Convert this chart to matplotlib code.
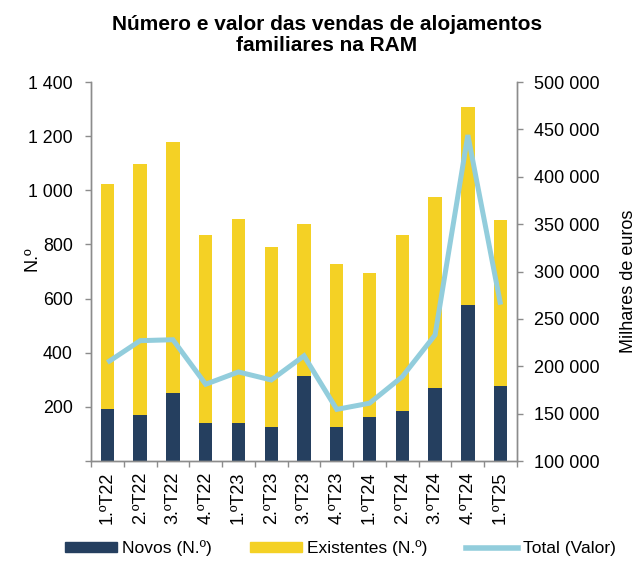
import matplotlib
matplotlib.use("Agg")
import matplotlib.pyplot as plt
from matplotlib.ticker import FuncFormatter
from matplotlib.patches import Patch
from matplotlib.lines import Line2D
import numpy as np

plt.rcParams['font.family'] = ['Liberation Sans', 'DejaVu Sans']

categories = ["1.ºT22", "2.ºT22", "3.ºT22", "4.ºT22", "1.ºT23", "2.ºT23", "3.ºT23",
              "4.ºT23", "1.ºT24", "2.ºT24", "3.ºT24", "4.ºT24", "1.ºT25"]
novos = [191, 170, 252, 142, 142, 126, 315, 124, 164, 184, 268, 575, 277]
totais_n = [1022, 1097, 1178, 836, 894, 792, 874, 727, 693, 834, 975, 1309, 890]
existentes = [t - n for t, n in zip(totais_n, novos)]
total_valor = [204000, 227000, 228000, 181000, 194000, 185500, 211000, 154500, 161000,
               189000, 233000, 444000, 265000]

navy = "#253F5F"
yellow = "#F4D125"
lblue = "#92CDDC"
gray = "#8C8C8C"

fig = plt.figure(figsize=(6.41, 5.61), dpi=100)
ax = fig.add_axes([91/641, 1 - 461/561, (517 - 91)/641, (461 - 82)/561])
ax2 = ax.twinx()

x = np.arange(len(categories))
w = 0.41
ax.bar(x, novos, width=w, color=navy, zorder=2)
ax.bar(x, existentes, width=w, bottom=novos, color=yellow, zorder=2)
ax2.plot(x, total_valor, color=lblue, linewidth=3.6, solid_capstyle='butt',
         solid_joinstyle='miter', zorder=3)

ax.set_xlim(-0.5, len(categories) - 0.5)
ax.set_ylim(0, 1400)
ax.set_yticks(np.arange(0, 1401, 200))
ax2.set_ylim(100000, 500000)
ax2.set_yticks(np.arange(100000, 500001, 50000))

def fmt(v, pos):
    return f"{int(round(v)):,}".replace(",", " ")
ax.yaxis.set_major_formatter(FuncFormatter(lambda v, p: "" if v == 0 else fmt(v, p)))
ax2.yaxis.set_major_formatter(FuncFormatter(fmt))

ax.set_xticks(x)
ax.set_xticklabels(categories, rotation=90, fontsize=13)
ax.set_xticks(np.arange(-0.5, len(categories), 1), minor=True)
ax.tick_params(axis='x', which='major', length=0, pad=8)
ax.tick_params(axis='x', which='minor', length=4, color=gray, width=1)
ax.tick_params(axis='y', length=4, color=gray, width=1, labelsize=12.8, pad=9)
ax2.tick_params(axis='y', length=4, color=gray, width=1, labelsize=13, pad=8)

for a in (ax, ax2):
    a.spines['top'].set_visible(False)
    for s in ('left', 'right', 'bottom'):
        a.spines[s].set_color(gray)
        a.spines[s].set_linewidth(1)
ax.set_zorder(0)
ax2.set_zorder(1)
ax.patch.set_visible(False)
ax2.patch.set_visible(False)

ax.set_ylabel("N.º", fontsize=13)
ax.yaxis.set_label_coords(-0.118, 0.533)
ax2.set_ylabel("Milhares de euros", fontsize=13)
ax2.yaxis.set_label_coords(1.242, 0.475)

fig.text(0.51, 1 - 15/561, "Número e valor das vendas de alojamentos\nfamiliares na RAM",
         ha='center', va='top', fontsize=15, fontweight='bold', linespacing=1.12)

handles = [Patch(color=navy), Patch(color=yellow), Line2D([0], [0], color=lblue, linewidth=4)]
labels = ["Novos (N.º)", "Existentes (N.º)", "Total (Valor)"]
fig.legend(handles, labels, loc='center', bbox_to_anchor=(0.531, 0.023), ncol=3,
           frameon=False, fontsize=12.5, handlelength=3.0, handleheight=0.45,
           columnspacing=2.2, handletextpad=0.3)

fig.savefig("out.png", dpi=100)
